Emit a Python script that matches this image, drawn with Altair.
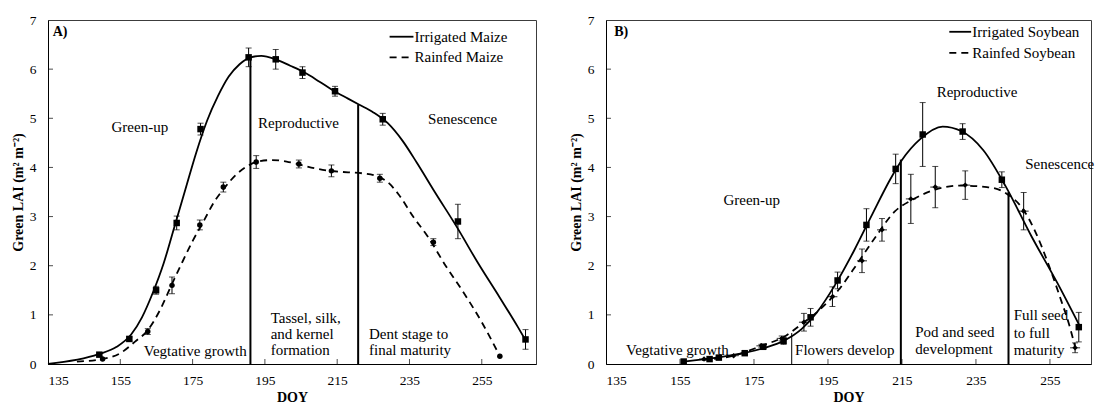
import altair as alt
import pandas as pd

# ---------------- Panel A: maize ----------------
maize_irr_doy = [149.2, 157.5, 164.9, 170.6, 177.2, 190.5, 198.0, 205.4, 214.4, 227.6, 248.4, 267.1]
maize_irr_lai = [0.19, 0.51, 1.50, 2.87, 4.78, 6.24, 6.20, 5.93, 5.55, 4.98, 2.90, 0.50]
maize_irr_err = [0.03, 0.04, 0.08, 0.14, 0.12, 0.19, 0.20, 0.12, 0.10, 0.12, 0.35, 0.20]

maize_rf_doy = [150.1, 162.6, 169.3, 177.0, 183.5, 192.6, 204.4, 213.4, 226.8, 241.6, 260.0]
maize_rf_lai = [0.10, 0.66, 1.60, 2.83, 3.60, 4.11, 4.07, 3.93, 3.78, 2.48, 0.16]
maize_rf_err = [0.00, 0.06, 0.17, 0.10, 0.10, 0.13, 0.08, 0.12, 0.08, 0.07, 0.00]

# fitted seasonal curves
maize_irr_fit_doy = [135, 149, 154, 158, 161, 164, 167, 170, 173, 176, 179, 182, 185, 188, 191,
                     194, 198, 202, 206, 210, 214, 218, 221, 225, 229, 233, 237, 242, 248, 254,
                     260, 265, 267]
maize_irr_fit_lai = [0.0, 0.2, 0.35, 0.6, 0.95, 1.45, 2.05, 2.8, 3.55, 4.3, 4.95, 5.45, 5.85, 6.1, 6.24,
                     6.27, 6.2, 6.07, 5.93, 5.75, 5.56, 5.4, 5.28, 5.12, 4.9, 4.55, 4.1, 3.5, 2.8, 2.05,
                     1.35, 0.75, 0.5]
maize_rf_fit_doy = [143, 150, 155, 159, 162.5, 166, 169, 172, 175, 178, 181, 184, 187, 190, 193,
                    197, 201, 205, 209, 213, 218, 222, 226, 229, 232, 236, 240, 245, 250, 255, 260]
maize_rf_fit_lai = [0.05, 0.1, 0.22, 0.45, 0.68, 1.1, 1.58, 2.05, 2.5, 2.9, 3.3, 3.6, 3.85, 4.02, 4.12,
                    4.15, 4.12, 4.05, 3.98, 3.93, 3.9, 3.88, 3.82, 3.7, 3.45, 3.0, 2.6, 2.0, 1.45, 0.85, 0.16]

maize_stage_doy = [191.0, 220.8]
maize_stage_top = [6.24, 5.28]
maize_stage_width = [2, 2]

maize_notes = ["A)", "Green-up", "Reproductive", "Senescence", "Vegtative growth",
               "Tassel, silk,", "and kernel", "formation", "Dent  stage to", "final maturity"]
maize_note_doy = [136.3, 160.4, 193.1, 249.7, 161.5, 196.6, 196.6, 196.6, 223.8, 223.8]
maize_note_lai = [6.76, 4.83, 4.90, 4.98, 0.26, 0.94, 0.61, 0.28, 0.61, 0.28]
maize_note_align = ["left", "center", "left", "center", "left", "left", "left", "left", "left", "left"]
maize_note_bold = [True, False, False, False, False, False, False, False, False, False]

maize_legend = ["Irrigated Maize", "Rainfed Maize"]
maize_legend_doy = [229.5, 236.1, 236.4]
maize_legend_lai = [6.66, 6.24]

# ---------------- Panel B: soybean ----------------
soy_irr_doy = [156.0, 163.0, 165.5, 172.5, 177.5, 183.0, 190.3, 197.6, 205.4, 213.3, 220.6, 231.4, 242.0, 262.8]
soy_irr_lai = [0.05, 0.10, 0.13, 0.22, 0.35, 0.47, 0.95, 1.70, 2.83, 3.97, 4.67, 4.73, 3.75, 0.75]
soy_irr_err = [0.00, 0.00, 0.02, 0.02, 0.03, 0.07, 0.18, 0.17, 0.33, 0.30, 0.65, 0.16, 0.16, 0.30]

soy_rf_doy = [161.5, 169.5, 177.0, 182.5, 188.5, 196.2, 204.2, 209.6, 217.4, 224.0, 232.1, 247.9, 261.8]
soy_rf_lai = [0.10, 0.17, 0.37, 0.52, 0.85, 1.37, 2.10, 2.73, 3.36, 3.60, 3.64, 3.11, 0.33]
soy_rf_err = [0.00, 0.00, 0.03, 0.05, 0.18, 0.20, 0.24, 0.23, 0.50, 0.42, 0.29, 0.38, 0.10]

soy_irr_fit_doy = [156, 165, 172, 178, 183, 188, 192, 197, 202, 207, 212, 215, 220, 226, 231,
                   237, 243, 250, 257, 263]
soy_irr_fit_lai = [0.05, 0.13, 0.22, 0.33, 0.47, 0.72, 1.05, 1.62, 2.3, 3.05, 3.78, 4.15, 4.58, 4.83, 4.74,
                   4.35, 3.62, 2.6, 1.65, 0.78]
soy_rf_fit_doy = [161, 170, 177, 183, 188, 193, 198, 203, 208, 213, 218, 224, 231, 238, 243,
                  248, 251, 254.5, 258, 260, 261.8]
soy_rf_fit_lai = [0.08, 0.18, 0.37, 0.55, 0.82, 1.12, 1.52, 2.05, 2.6, 3.1, 3.35, 3.55, 3.63, 3.6, 3.48,
                  3.12, 2.7, 2.05, 1.3, 0.85, 0.35]

soy_stage_doy = [185.2, 214.7, 243.8]
soy_stage_top = [0.63, 4.16, 3.5]
soy_stage_width = [1, 2, 2]

soy_notes = ["B)", "Green-up", "Reproductive", "Senescence", "Vegtative growth", "Flowers develop",
             "Pod and seed", "development", "Full seed", "to full", "maturity"]
soy_note_doy = [137.2, 174.4, 235.3, 248.3, 140.4, 186.1, 218.6, 218.6, 245.2, 245.2, 245.2]
soy_note_lai = [6.76, 3.33, 5.54, 4.06, 0.28, 0.28, 0.65, 0.30, 0.99, 0.64, 0.28]
soy_note_align = ["left", "center", "center", "left", "left", "left", "left", "left", "left", "left", "left"]
soy_note_bold = [True, False, False, False, False, False, False, False, False, False, False]

soy_legend = ["Irrigated Soybean", "Rainfed Soybean"]
soy_legend_doy = [227.8, 233.7, 234.0]
soy_legend_lai = [6.76, 6.33]

# ---------------- shared axis settings ----------------
x_ticks = [135, 155, 175, 195, 215, 235, 255]
y_ticks = [0, 1, 2, 3, 4, 5, 6, 7]
x_inner_ticks = [155, 175, 195, 215, 235, 255]
y_inner_ticks = [1, 2, 3, 4, 5, 6]

FONT = "Liberation Serif"
INK = "#000000"
Y_SCALE = alt.Scale(domain=[0, 7], nice=False)
PLOT_H = 344
NOTE_SIZE = 15

X_AXIS = alt.Axis(title="DOY", values=x_ticks, ticks=False, grid=False, domainColor=INK,
                  labelFontSize=13.5, labelPadding=9, labelColor=INK,
                  titleFontSize=14, titleFontWeight="bold", titlePadding=4, titleColor=INK)
Y_AXIS = alt.Axis(title="Green LAI (m² m⁻²)", values=y_ticks, ticks=False, grid=False,
                  domainColor=INK, labelFontSize=13.5, labelPadding=12, labelColor=INK,
                  titleFontSize=14, titleFontWeight="bold", titlePadding=4, titleColor=INK)


def panel(width, x_max, irr, rf, irr_fit, rf_fit, stages, notes, legend, rf_shape):
    x_scale = alt.Scale(domain=[135, x_max], nice=False, zero=False)

    def xq(field):
        return alt.X(field, type="quantitative", scale=x_scale, axis=X_AXIS)

    def yq(field):
        return alt.Y(field, type="quantitative", scale=Y_SCALE, axis=Y_AXIS)

    irr_df = pd.DataFrame({"doy": irr[0], "lai": irr[1], "err": irr[2]})
    rf_df = pd.DataFrame({"doy": rf[0], "lai": rf[1], "err": rf[2]})
    for d in (irr_df, rf_df):
        d["lo"] = d["lai"] - d["err"]
        d["hi"] = d["lai"] + d["err"]
    bars_df = pd.concat([irr_df, rf_df])
    bars_df = bars_df[bars_df["err"] > 0]

    irr_fit_df = pd.DataFrame({"doy": irr_fit[0], "lai": irr_fit[1]})
    rf_fit_df = pd.DataFrame({"doy": rf_fit[0], "lai": rf_fit[1]})

    irr_line = alt.Chart(irr_fit_df).mark_line(
        interpolate="monotone", color=INK, strokeWidth=1.8
    ).encode(x=xq("doy"), y=yq("lai"))
    rf_line = alt.Chart(rf_fit_df).mark_line(
        interpolate="monotone", color=INK, strokeWidth=1.8, strokeDash=[7, 5]
    ).encode(x=xq("doy"), y=yq("lai"))

    stage_df = pd.DataFrame({"doy": stages[0], "top": stages[1], "w": stages[2]})
    stage_df["base"] = 0.0
    stage_rules = alt.Chart(stage_df).mark_rule(color=INK).encode(
        x=xq("doy"), y=yq("base"), y2="top",
        strokeWidth=alt.StrokeWidth("w:Q", scale=None, legend=None),
    )

    err_rules = alt.Chart(bars_df).mark_rule(color=INK, strokeWidth=1).encode(
        x=xq("doy"), y=yq("lo"), y2="hi")
    caps_lo = alt.Chart(bars_df).mark_tick(
        color=INK, orient="horizontal", size=6, thickness=1
    ).encode(x=xq("doy"), y=yq("lo"))
    caps_hi = alt.Chart(bars_df).mark_tick(
        color=INK, orient="horizontal", size=6, thickness=1
    ).encode(x=xq("doy"), y=yq("hi"))

    irr_pts = alt.Chart(irr_df).mark_point(
        shape="square", filled=True, color=INK, size=42, opacity=1
    ).encode(x=xq("doy"), y=yq("lai"))
    rf_pts = alt.Chart(rf_df).mark_point(
        shape=rf_shape, filled=True, color=INK, size=30, opacity=1
    ).encode(x=xq("doy"), y=yq("lai"))

    layers = [irr_line, rf_line, stage_rules, err_rules, caps_lo, caps_hi, irr_pts, rf_pts]

    if rf_shape == "diamond":
        whisk = alt.Chart(rf_df).mark_tick(
            color=INK, orient="horizontal", size=10, thickness=1.2
        ).encode(x=xq("doy"), y=yq("lai"))
        layers.append(whisk)

    # inward tick marks
    xt_df = pd.DataFrame({"doy": x_inner_ticks, "lai": 0.0})
    yt_df = pd.DataFrame({"doy": 135.0, "lai": y_inner_ticks})
    layers.append(alt.Chart(xt_df).mark_tick(
        color=INK, orient="vertical", size=5, thickness=1, yOffset=-2.5
    ).encode(x=xq("doy"), y=yq("lai")))
    layers.append(alt.Chart(yt_df).mark_tick(
        color=INK, orient="horizontal", size=5, thickness=1, xOffset=2.5
    ).encode(x=xq("doy"), y=yq("lai")))

    # stage annotations
    note_df = pd.DataFrame({"text": notes[0], "doy": notes[1], "lai": notes[2],
                            "align": notes[3], "bold": notes[4]})
    for align in ("left", "center"):
        for bold in (False, True):
            sub = note_df[(note_df["align"] == align) & (note_df["bold"] == bold)]
            if len(sub) == 0:
                continue
            layers.append(alt.Chart(sub).mark_text(
                align=align, baseline="middle", font=FONT,
                fontSize=14 if bold else NOTE_SIZE,
                fontWeight="bold" if bold else "normal", color=INK
            ).encode(x=xq("doy"), y=yq("lai"), text="text:N"))

    # hand-placed legend
    labels, lx, ly = legend
    leg_solid = pd.DataFrame({"doy": [lx[0]], "doy2": [lx[1]], "lai": [ly[0]]})
    leg_dash = pd.DataFrame({"doy": [lx[0]], "doy2": [lx[1]], "lai": [ly[1]]})
    leg_text = pd.DataFrame({"text": labels, "doy": [lx[2], lx[2]], "lai": ly})
    layers.append(alt.Chart(leg_solid).mark_rule(color=INK, strokeWidth=1.8).encode(
        x=xq("doy"), x2="doy2", y=yq("lai")))
    layers.append(alt.Chart(leg_dash).mark_rule(color=INK, strokeWidth=1.8, strokeDash=[7, 5]).encode(
        x=xq("doy"), x2="doy2", y=yq("lai")))
    layers.append(alt.Chart(leg_text).mark_text(
        align="left", baseline="middle", font=FONT, fontSize=NOTE_SIZE, color=INK
    ).encode(x=xq("doy"), y=yq("lai"), text="text:N"))

    return alt.layer(*layers).properties(width=width, height=PLOT_H)


maize = panel(
    488, 270,
    (maize_irr_doy, maize_irr_lai, maize_irr_err),
    (maize_rf_doy, maize_rf_lai, maize_rf_err),
    (maize_irr_fit_doy, maize_irr_fit_lai),
    (maize_rf_fit_doy, maize_rf_fit_lai),
    (maize_stage_doy, maize_stage_top, maize_stage_width),
    (maize_notes, maize_note_doy, maize_note_lai, maize_note_align, maize_note_bold),
    (maize_legend, maize_legend_doy, maize_legend_lai),
    "circle",
)

# the soybean panel runs on to the page edge, so its axis stops a little short of 270
soy = panel(
    485, 266.1,
    (soy_irr_doy, soy_irr_lai, soy_irr_err),
    (soy_rf_doy, soy_rf_lai, soy_rf_err),
    (soy_irr_fit_doy, soy_irr_fit_lai),
    (soy_rf_fit_doy, soy_rf_fit_lai),
    (soy_stage_doy, soy_stage_top, soy_stage_width),
    (soy_notes, soy_note_doy, soy_note_lai, soy_note_align, soy_note_bold),
    (soy_legend, soy_legend_doy, soy_legend_lai),
    "diamond",
)

chart = alt.hconcat(maize, soy, spacing=31).properties(
    padding={"left": 10, "top": 12, "right": 0, "bottom": 0},
    background="white",
).configure_view(
    stroke="#3c3c3c", strokeWidth=1
).configure_axis(
    labelFont=FONT, titleFont=FONT, domainWidth=1
).configure_text(font=FONT)

chart.save("out.html", embed_options={"renderer": "svg", "actions": False})
